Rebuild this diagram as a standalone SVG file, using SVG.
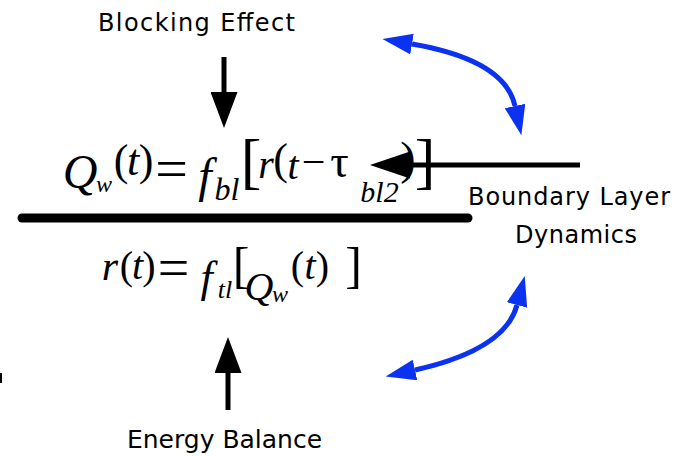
<svg xmlns="http://www.w3.org/2000/svg" width="684" height="456" viewBox="0 0 684 456">
<style>
.lbl{font-family:"DejaVu Sans","Liberation Sans",sans-serif;font-size:24px;fill:#000}
.m{font-family:"Liberation Serif","Times New Roman",serif;fill:#000;text-anchor:middle}
.i{font-style:italic}
.blk{stroke:#000;stroke-width:5;fill:none}
.blue{stroke:#0a32f0;stroke-width:5;fill:none}
</style>
<defs>
<marker id="ah" markerUnits="userSpaceOnUse" markerWidth="36" markerHeight="27" viewBox="0 0 36 27" refX="0" refY="13.5" orient="auto"><path d="M0,0 L36,13.5 L0,27 z" fill="#000"/></marker>
<marker id="ahw" markerUnits="userSpaceOnUse" markerWidth="40" markerHeight="27" viewBox="0 0 40 27" refX="0" refY="13.5" orient="auto"><path d="M0,0 L40,13.5 L0,27 z" fill="#000"/></marker>
<marker id="bh" markerUnits="userSpaceOnUse" markerWidth="30" markerHeight="21" viewBox="0 0 30 21" refX="0" refY="10.5" orient="auto-start-reverse"><path d="M0,0 L30,10.5 L0,21 z" fill="#0a32f0"/></marker>
</defs>
<rect width="684" height="456" fill="#fff"/>

<g id="blocking-effect"><text class="lbl" x="98" y="31" textLength="197" lengthAdjust="spacing">Blocking Effect</text></g>
<g id="boundary-layer-dynamics">
<text class="lbl" x="468" y="205" textLength="202" lengthAdjust="spacing">Boundary Layer</text>
<text class="lbl" x="515" y="243" textLength="122" lengthAdjust="spacing">Dynamics</text>
</g>
<g id="energy-balance"><text class="lbl" x="127" y="448" textLength="195" lengthAdjust="spacingAndGlyphs">Energy Balance</text></g>

<g id="equation-1">
<text class="m"><tspan class="i" x="80" y="188" font-size="48">Q</tspan><tspan class="i" x="104" y="192" font-size="24">w</tspan><tspan x="121" y="175" font-size="44">(</tspan><tspan class="i" x="133" y="175" font-size="44">t</tspan><tspan x="146" y="175" font-size="44">)</tspan><tspan x="171.5" y="188" font-size="58">=</tspan><tspan class="i" x="205" y="192" font-size="48">f</tspan><tspan class="i" x="227" y="200" font-size="32">bl</tspan><tspan x="251" y="182" font-size="62">[</tspan><tspan class="i" x="266" y="178" font-size="40">r</tspan><tspan x="280.5" y="174" font-size="44">(</tspan><tspan class="i" x="293" y="179" font-size="40">t</tspan><tspan x="313.5" y="176" font-size="42">−</tspan><tspan x="339.5" y="177" font-size="46">τ</tspan><tspan class="i" x="379.5" y="202" font-size="30">bl2</tspan><tspan x="408" y="174" font-size="46">)</tspan><tspan x="425" y="182" font-size="62">]</tspan></text>
</g>

<g id="divider"><line x1="22" y1="218" x2="468" y2="218" stroke="#000" stroke-width="9" stroke-linecap="round"/></g>

<g id="equation-2">
<text class="m"><tspan class="i" x="110" y="280" font-size="42">r</tspan><tspan x="126.5" y="279" font-size="40">(</tspan><tspan class="i" x="137.5" y="279" font-size="40">t</tspan><tspan x="149" y="279" font-size="40">)</tspan><tspan x="173.5" y="287" font-size="56">=</tspan><tspan class="i" x="206.5" y="292" font-size="44">f</tspan><tspan class="i" x="225" y="298" font-size="26">tl</tspan><tspan x="241" y="282" font-size="50">[</tspan><tspan class="i" x="259" y="300" font-size="40">Q</tspan><tspan class="i" x="280" y="302" font-size="24">w</tspan><tspan x="297.5" y="279" font-size="40">(</tspan><tspan class="i" x="310" y="279" font-size="40">t</tspan><tspan x="322.5" y="279" font-size="40">)</tspan><tspan x="353.5" y="282" font-size="50">]</tspan></text>
</g>

<g id="connectors">
<line class="blk" x1="224" y1="57" x2="224" y2="92" marker-end="url(#ah)"/>
<line class="blk" x1="228" y1="410" x2="228" y2="373" marker-end="url(#ah)"/>
<line class="blk" x1="580" y1="165" x2="410" y2="165" marker-end="url(#ahw)"/>
<path class="blue" d="M412,44 Q505,60 515,106" marker-start="url(#bh)" marker-end="url(#bh)"/>
<path class="blue" d="M415,370 Q505,350 517,305" marker-start="url(#bh)" marker-end="url(#bh)"/>
</g>
<rect x="0" y="373" width="2" height="10" fill="#000"/>
</svg>
